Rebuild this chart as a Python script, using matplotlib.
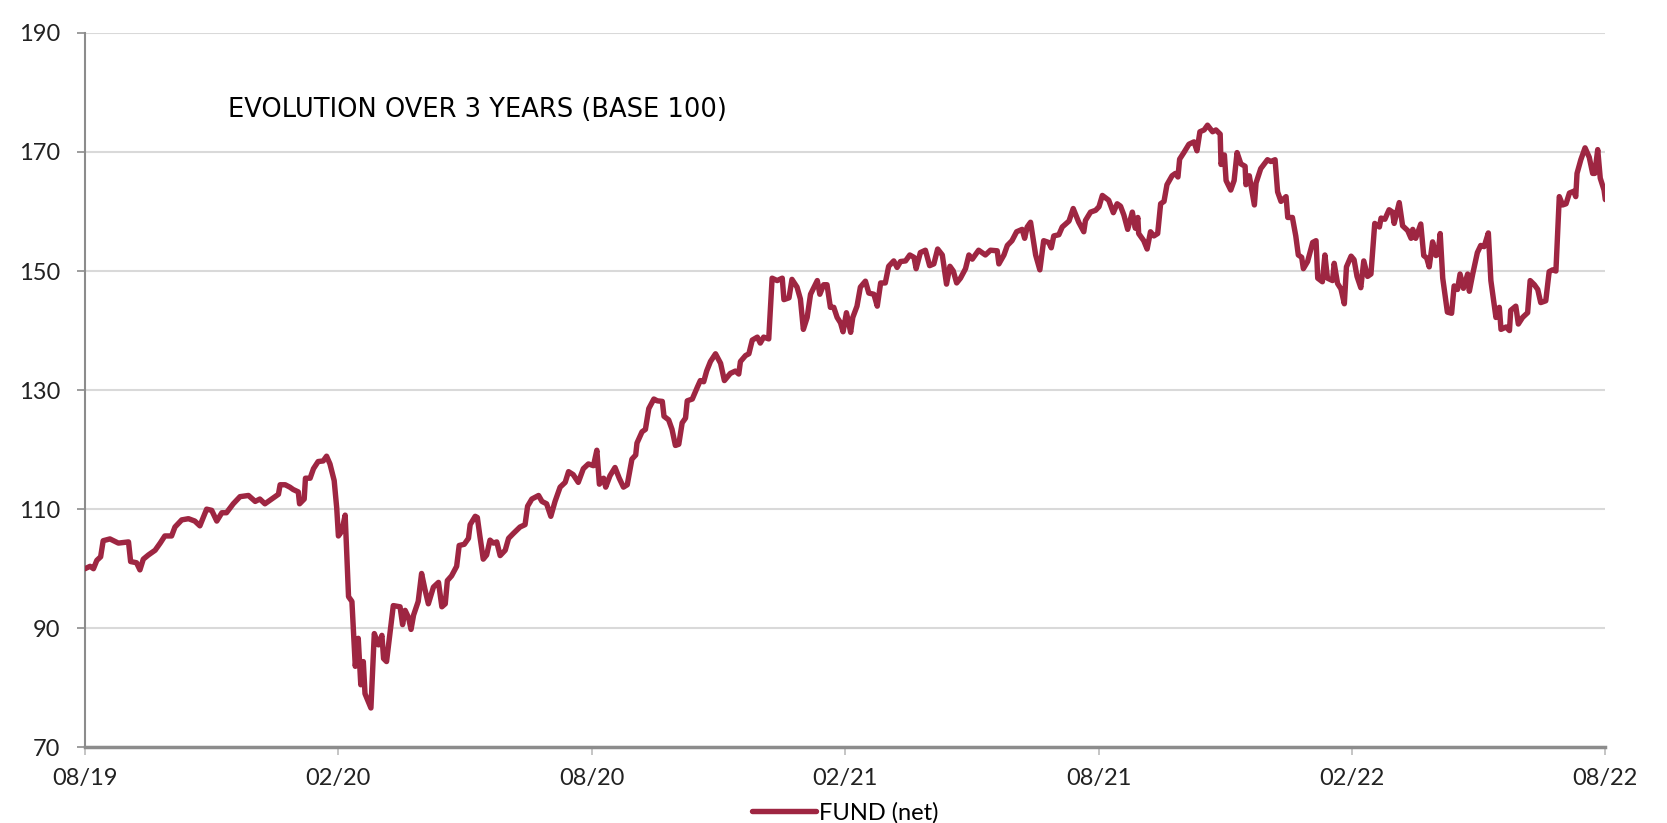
import matplotlib
matplotlib.use("Agg")
import matplotlib.pyplot as plt

plt.rcParams['font.family'] = ['Lato', 'DejaVu Sans']

# months elapsed since 08/2019
months = [0.00, 0.12, 0.20, 0.28, 0.37, 0.43, 0.59, 0.79, 1.03, 1.08, 1.22, 1.30, 1.38, 1.50, 1.66, 1.78, 1.89,
          2.05, 2.13, 2.29, 2.45, 2.60, 2.72, 2.88, 3.00, 3.12, 3.24, 3.35, 3.51, 3.67, 3.87, 4.03, 4.14, 4.26,
          4.42, 4.58, 4.62, 4.74, 4.85, 4.93, 5.05, 5.08, 5.19, 5.22, 5.33, 5.41, 5.52, 5.64, 5.72, 5.80, 5.90,
          5.96, 6.00, 6.08, 6.16, 6.24, 6.32, 6.40, 6.47, 6.53, 6.59, 6.63, 6.77, 6.85, 6.95, 7.03, 7.07, 7.14,
          7.30, 7.46, 7.52, 7.58, 7.66, 7.72, 7.78, 7.89, 7.97, 8.05, 8.13, 8.25, 8.37, 8.45, 8.53, 8.58, 8.68,
          8.80, 8.86, 8.98, 9.08, 9.12, 9.24, 9.29, 9.35, 9.43, 9.51, 9.59, 9.67, 9.75, 9.83, 9.95, 10.03, 10.14,
          10.30, 10.42, 10.48, 10.58, 10.74, 10.82, 10.93, 11.03, 11.13, 11.25, 11.37, 11.45, 11.56, 11.68,
          11.80, 11.92, 12.04, 12.12, 12.18, 12.28, 12.33, 12.43, 12.55, 12.65, 12.75, 12.84, 12.95, 13.04,
          13.07, 13.19, 13.27, 13.35, 13.47, 13.55, 13.67, 13.71, 13.82, 13.90, 13.98, 14.06, 14.14, 14.22,
          14.26, 14.38, 14.50, 14.57, 14.65, 14.72, 14.81, 14.93, 15.05, 15.14, 15.28, 15.40, 15.48, 15.52,
          15.64, 15.72, 15.80, 15.92, 15.99, 16.07, 16.19, 16.27, 16.39, 16.51, 16.55, 16.67, 16.74, 16.86,
          16.94, 17.01, 17.10, 17.18, 17.34, 17.40, 17.49, 17.57, 17.65, 17.73, 17.81, 17.89, 17.95, 18.03,
          18.13, 18.18, 18.28, 18.36, 18.48, 18.56, 18.68, 18.76, 18.84, 18.95, 19.03, 19.15, 19.23, 19.31,
          19.43, 19.53, 19.63, 19.68, 19.78, 19.90, 20.00, 20.10, 20.19, 20.30, 20.40, 20.48, 20.56, 20.64,
          20.73, 20.85, 20.93, 21.01, 21.16, 21.32, 21.44, 21.60, 21.64, 21.76, 21.84, 21.95, 22.06, 22.19,
          22.25, 22.31, 22.39, 22.51, 22.61, 22.70, 22.82, 22.88, 22.94, 23.06, 23.14, 23.30, 23.40, 23.53,
          23.65, 23.69, 23.81, 23.93, 24.01, 24.09, 24.24, 24.35, 24.44, 24.52, 24.60, 24.69, 24.80, 24.87,
          24.93, 24.95, 25.07, 25.15, 25.23, 25.31, 25.40, 25.47, 25.55, 25.62, 25.74, 25.82, 25.88, 25.92,
          26.02, 26.14, 26.26, 26.33, 26.40, 26.50, 26.58, 26.70, 26.78, 26.88, 26.90, 26.98, 27.02, 27.13,
          27.21, 27.28, 27.37, 27.47, 27.49, 27.57, 27.69, 27.73, 27.84, 28.00, 28.08, 28.18, 28.24, 28.32,
          28.44, 28.48, 28.59, 28.67, 28.73, 28.81, 28.85, 28.95, 29.07, 29.15, 29.19, 29.30, 29.36, 29.42,
          29.54, 29.58, 29.66, 29.74, 29.82, 29.87, 29.98, 30.05, 30.12, 30.21, 30.28, 30.37, 30.45, 30.54,
          30.65, 30.69, 30.78, 30.88, 30.96, 31.00, 31.12, 31.20, 31.32, 31.40, 31.44, 31.51, 31.63, 31.70,
          31.77, 31.83, 31.91, 31.99, 32.04, 32.09, 32.15, 32.26, 32.36, 32.42, 32.50, 32.56, 32.64, 32.74,
          32.78, 32.86, 32.97, 33.05, 33.13, 33.23, 33.29, 33.41, 33.49, 33.53, 33.65, 33.73, 33.76, 33.88,
          33.94, 34.04, 34.16, 34.22, 34.32, 34.40, 34.47, 34.59, 34.67, 34.75, 34.83, 34.91, 34.99, 35.07,
          35.15, 35.25, 35.30, 35.33, 35.42, 35.52, 35.62, 35.70, 35.75, 35.82, 35.88, 35.97, 36.00]

fund = [100.0, 100.4, 100.0, 101.4, 102.0, 104.7, 105.0, 104.3, 104.5, 101.2, 101.0, 99.8, 101.6, 102.3, 103.1,
        104.3, 105.5, 105.5, 107.0, 108.2, 108.4, 108.0, 107.2, 110.0, 109.8, 108.0, 109.4, 109.4, 110.9, 112.1,
        112.3, 111.3, 111.7, 110.9, 111.7, 112.5, 114.1, 114.1, 113.7, 113.3, 112.9, 110.9, 111.7, 115.2, 115.2,
        116.8, 118.0, 118.1, 118.9, 117.6, 114.8, 110.2, 105.5, 106.3, 109.0, 95.3, 94.5, 83.6, 88.3, 80.5, 84.4,
        79.0, 76.6, 89.1, 87.2, 88.8, 84.9, 84.4, 93.8, 93.6, 90.6, 93.0, 91.8, 89.8, 92.2, 94.5, 99.2, 96.5,
        94.1, 96.9, 97.7, 93.6, 94.1, 98.0, 98.8, 100.4, 103.9, 104.1, 105.1, 107.4, 108.8, 108.6, 105.5, 101.6,
        102.3, 104.8, 104.3, 104.5, 102.2, 103.1, 105.1, 105.9, 107.0, 107.4, 110.5, 111.7, 112.3, 111.3, 110.9,
        108.8, 111.3, 113.7, 114.5, 116.3, 115.8, 114.5, 116.8, 117.6, 117.3, 119.9, 114.2, 115.2, 113.7, 115.6,
        117.0, 115.2, 113.7, 114.1, 118.4, 119.1, 121.1, 123.0, 123.4, 126.9, 128.5, 128.2, 128.1, 125.6, 125.0,
        123.4, 120.7, 120.9, 124.5, 125.3, 128.2, 128.5, 130.5, 131.6, 131.4, 133.2, 134.8, 136.1, 134.5, 131.6,
        132.8, 133.2, 132.7, 134.8, 135.8, 136.1, 138.4, 138.9, 137.9, 138.9, 138.6, 148.8, 148.4, 148.8, 145.2,
        145.5, 148.6, 147.3, 145.3, 140.2, 142.2, 146.1, 148.4, 146.1, 147.7, 147.7, 143.9, 143.9, 142.2, 141.3,
        139.8, 143.0, 139.7, 142.2, 144.1, 147.3, 148.3, 146.3, 146.1, 144.1, 148.0, 148.0, 150.8, 151.7, 150.6,
        151.6, 151.7, 152.7, 152.3, 150.4, 153.1, 153.5, 150.9, 151.2, 153.7, 152.7, 147.8, 150.8, 150.0, 148.0,
        148.8, 150.4, 152.7, 152.0, 153.5, 152.7, 153.5, 153.4, 151.2, 152.7, 154.3, 155.1, 156.6, 157.0, 155.5,
        157.4, 158.2, 152.7, 150.2, 155.1, 154.8, 153.9, 155.9, 156.1, 157.4, 158.4, 160.5, 158.2, 156.6, 158.5,
        159.9, 160.2, 160.8, 162.7, 161.9, 159.8, 161.3, 160.9, 159.4, 157.0, 159.9, 157.2, 159.0, 156.3, 155.1,
        153.7, 156.6, 155.9, 156.3, 161.3, 161.7, 164.5, 166.0, 166.4, 165.8, 168.8, 169.9, 171.3, 171.7, 170.2,
        173.4, 173.7, 174.5, 173.4, 173.7, 173.0, 167.9, 169.5, 165.2, 163.6, 165.2, 169.9, 168.0, 167.6, 164.5,
        166.0, 161.1, 164.8, 167.2, 168.7, 168.4, 168.7, 163.3, 161.7, 162.5, 159.0, 159.0, 155.9, 152.7, 152.3,
        150.4, 151.6, 154.8, 155.1, 148.8, 148.2, 152.7, 148.8, 148.4, 151.3, 147.9, 147.0, 144.5, 150.7, 152.5,
        151.9, 149.1, 147.2, 151.7, 149.1, 149.5, 158.0, 157.4, 158.9, 158.7, 160.3, 159.9, 158.0, 161.5, 157.6,
        156.8, 155.5, 157.0, 155.5, 157.9, 152.6, 152.2, 150.7, 154.9, 152.6, 152.9, 156.3, 148.8, 143.1, 142.9,
        147.5, 146.9, 149.5, 147.1, 149.5, 146.6, 149.5, 153.1, 154.3, 154.1, 156.4, 148.4, 142.2, 143.9, 140.2,
        140.6, 140.0, 143.4, 144.1, 141.1, 142.2, 143.0, 148.4, 147.7, 146.9, 144.7, 145.0, 149.9, 150.2, 150.0,
        162.5, 161.1, 161.3, 163.1, 163.4, 162.5, 166.4, 168.7, 170.7, 169.1, 166.4, 166.4, 170.4, 165.6, 163.6,
        162.0]

tick_months = [0, 6, 12, 18, 24, 30, 36]
tick_labels = ['08/19', '02/20', '08/20', '02/21', '08/21', '02/22', '08/22']
y_ticks = [70, 90, 110, 130, 150, 170, 190]

line_color = '#9e2642'
grey = '#8c8c8c'
text_color = '#222222'

fig = plt.figure(figsize=(16.67, 8.23), dpi=100)
ax = fig.add_axes([0.051, 0.092, 0.912, 0.868])

ax.plot(months, fund, color=line_color, lw=3.9, solid_joinstyle='round', solid_capstyle='round',
        label='FUND (net)', zorder=3)

ax.set_xlim(0, 36)
ax.set_ylim(70, 190)
ax.set_xticks(tick_months)
ax.set_xticklabels(tick_labels)
ax.set_yticks(y_ticks)
ax.grid(axis='y', color='#d9d9d9', lw=1.5, zorder=0)
ax.set_axisbelow(True)

for s in ['top', 'right']:
    ax.spines[s].set_visible(False)
ax.spines['left'].set_color(grey)
ax.spines['left'].set_linewidth(1.5)
ax.spines['bottom'].set_color(grey)
ax.spines['bottom'].set_linewidth(2.5)
ax.tick_params(axis='y', length=6, width=1.2, color=grey, pad=12, labelsize=17, labelcolor=text_color)
ax.tick_params(axis='x', length=6, width=1.2, color='#bbbbbb', pad=9, labelsize=17, labelcolor=text_color)

ax.text(0.094, 0.892, 'EVOLUTION OVER 3 YEARS (BASE 100)', transform=ax.transAxes,
        fontsize=18.5, va='center', ha='left', color='black', family='DejaVu Sans')

ax.legend(loc='center', bbox_to_anchor=(0.5, -0.092), frameon=False,
          handlelength=2.7, handletextpad=0.15, prop={'size': 17})

fig.savefig('out.png', dpi=100)
